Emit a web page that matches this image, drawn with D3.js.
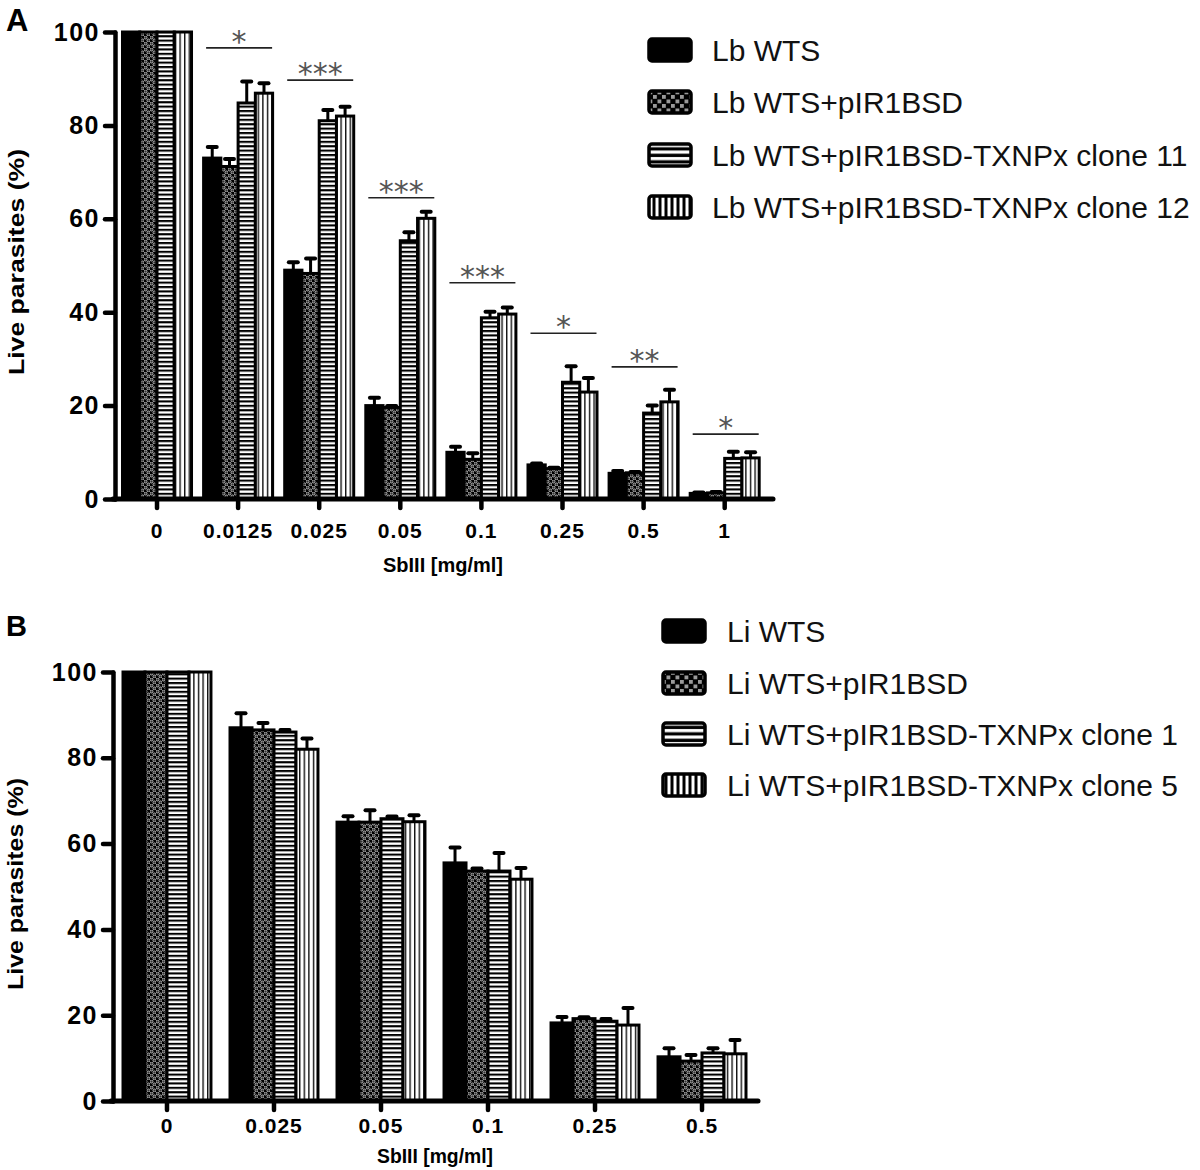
<!DOCTYPE html>
<html><head><meta charset="utf-8">
<script src="https://cdn.jsdelivr.net/npm/d3@7"></script>
<style>
html,body{margin:0;padding:0;background:#fff;}
svg{display:block;}
text{font-family:"Liberation Sans",Arial,Helvetica,sans-serif;}
</style></head>
<body><div id="chart"></div>
<script>
// ---------- DATA ----------
const categoriesA = ["0","0.0125","0.025","0.05","0.1","0.25","0.5","1"];
const seriesNamesA = ["Lb WTS","Lb WTS+pIR1BSD","Lb WTS+pIR1BSD-TXNPx clone 11","Lb WTS+pIR1BSD-TXNPx clone 12"];
const lbWTS        = [100, 73.0, 49.0, 20.0, 10.0, 7.3, 5.5, 1.2];
const lbWTSErr     = [0, 2.4, 1.7, 1.7, 1.2, 0.3, 0.5, 0.2];
const lbPIR        = [100, 71.2, 48.3, 19.6, 8.5, 6.5, 5.6, 1.3];
const lbPIRErr     = [0, 1.6, 3.2, 0.3, 1.3, 0.2, 0.2, 0.2];
const lbClone11    = [100, 84.8, 81.0, 55.3, 38.8, 25.0, 18.4, 8.7];
const lbClone11Err = [0, 4.6, 2.3, 1.8, 1.3, 3.4, 1.6, 1.4];
const lbClone12    = [100, 86.9, 82.0, 60.1, 39.6, 22.9, 20.8, 8.8];
const lbClone12Err = [0, 2.1, 2.0, 1.4, 1.4, 3.0, 2.6, 1.2];
const sigCatsA   = ["0.0125","0.025","0.05","0.1","0.25","0.5","1"];
const sigLabelsA = ["*","***","***","***","*","**","*"];
const sigLevelsA = [96.6, 89.7, 64.5, 46.3, 35.5, 28.3, 13.9];

const categoriesB = ["0","0.025","0.05","0.1","0.25","0.5"];
const seriesNamesB = ["Li WTS","Li WTS+pIR1BSD","Li WTS+pIR1BSD-TXNPx clone 1","Li WTS+pIR1BSD-TXNPx clone 5"];
const liWTS       = [100, 87.0, 65.0, 55.5, 18.2, 10.3];
const liWTSErr    = [0, 3.4, 1.4, 3.6, 1.4, 2.0];
const liPIR       = [100, 86.5, 65.0, 53.6, 19.2, 9.3];
const liPIRErr    = [0, 1.6, 2.8, 0.6, 0.3, 1.4];
const liClone1    = [100, 86.0, 65.8, 53.6, 18.6, 11.2];
const liClone1Err = [0, 0.5, 0.5, 4.2, 0.5, 1.1];
const liClone5    = [100, 82.0, 65.1, 51.7, 17.7, 11.0];
const liClone5Err = [0, 2.5, 1.5, 2.6, 4.0, 3.2];

const yTicks = [0, 20, 40, 60, 80, 100];
const xTitle = "SbIII [mg/ml]";
const yTitle = "Live parasites (%)";

// ---------- SVG ----------
const W = 1200, H = 1170;
const svg = d3.select("#chart").append("svg").attr("width", W).attr("height", H);
const defs = svg.append("defs");

function pattern(id, w, h, build) {
  const p = defs.append("pattern").attr("id", id).attr("patternUnits", "userSpaceOnUse")
    .attr("width", w).attr("height", h);
  build(p);
}
// bar patterns
pattern("pCheck", 6, 6, p => {
  p.append("rect").attr("width", 6).attr("height", 6).attr("fill", "#000");
  p.append("circle").attr("cx", 1.5).attr("cy", 1.5).attr("r", 1.5).attr("fill", "#333").attr("stroke", "#b0b0b0").attr("stroke-width", 1);
  p.append("circle").attr("cx", 4.5).attr("cy", 4.5).attr("r", 1.5).attr("fill", "#333").attr("stroke", "#b0b0b0").attr("stroke-width", 1);
});
pattern("pH", 10, 4.4, p => {
  p.append("rect").attr("width", 10).attr("height", 4.4).attr("fill", "#fff");
  p.append("rect").attr("width", 10).attr("height", 2.1).attr("fill", "#000");
});
pattern("pV", 4.6, 10, p => {
  p.append("rect").attr("width", 4.6).attr("height", 10).attr("fill", "#fff");
  p.append("rect").attr("width", 1.4).attr("height", 10).attr("fill", "#111");
});
// legend patterns
pattern("pCheckL", 9, 9, p => {
  p.append("rect").attr("width", 9).attr("height", 9).attr("fill", "#000");
  p.append("rect").attr("x", 0.5).attr("y", 0.5).attr("width", 3.8).attr("height", 3.8).attr("fill", "#9a9a9a");
  p.append("rect").attr("x", 5).attr("y", 5).attr("width", 3.8).attr("height", 3.8).attr("fill", "#9a9a9a");
});
pattern("pHL", 10, 6.5, p => {
  p.append("rect").attr("width", 10).attr("height", 6.5).attr("fill", "#000");
  p.append("rect").attr("y", 1).attr("width", 10).attr("height", 3.2).attr("fill", "#fff");
});
pattern("pVL", 6, 10, p => {
  p.append("rect").attr("width", 6).attr("height", 10).attr("fill", "#000");
  p.append("rect").attr("x", 1.5).attr("width", 3).attr("height", 10).attr("fill", "#fff");
});

const barFills = ["#000", "url(#pCheck)", "url(#pH)", "url(#pV)"];
const legendFills = ["#000", "url(#pCheckL)", "url(#pHL)", "url(#pVL)"];

function drawPanel(cfg) {
  const g = svg.append("g");
  const x = d3.scaleBand().domain(cfg.categories).range(cfg.xRange)
    .paddingInner(cfg.padInner).paddingOuter(cfg.padOuter);
  const y = d3.scaleLinear().domain([0, 100]).range(cfg.yRange);
  const xs = d3.scaleBand().domain(d3.range(cfg.series.length)).range([0, x.bandwidth()]);

  // bars
  cfg.series.forEach((vals, si) => {
    g.append("g").selectAll("rect").data(cfg.categories).join("rect")
      .attr("x", c => x(c) + xs(si))
      .attr("y", (c, i) => y(vals[i]))
      .attr("width", xs.bandwidth())
      .attr("height", (c, i) => y(0) - y(vals[i]))
      .attr("fill", barFills[si])
      .attr("stroke", "#000").attr("stroke-width", 3);
  });
  // error bars
  cfg.series.forEach((vals, si) => {
    const errs = cfg.errors[si];
    const eg = g.append("g");
    cfg.categories.forEach((c, i) => {
      if (!errs[i]) return;
      const cx = x(c) + xs(si) + xs.bandwidth() / 2;
      eg.append("line").attr("x1", cx).attr("x2", cx)
        .attr("y1", y(vals[i])).attr("y2", y(vals[i] + errs[i]))
        .attr("stroke", "#000").attr("stroke-width", 3);
      eg.append("line").attr("x1", cx - 4.5).attr("x2", cx + 4.5)
        .attr("y1", y(vals[i] + errs[i])).attr("y2", y(vals[i] + errs[i]))
        .attr("stroke", "#000").attr("stroke-width", 4).attr("stroke-linecap", "round");
    });
  });

  // y axis
  const ya = g.append("g").attr("transform", `translate(${cfg.xRange[0]},0)`)
    .call(d3.axisLeft(y).tickValues(yTicks).tickSize(10).tickSizeOuter(0).tickPadding(5));
  ya.select(".domain").attr("stroke", "#000").attr("stroke-width", 4.5).attr("stroke-linecap", "round");
  ya.selectAll(".tick line").attr("stroke", "#000").attr("stroke-width", 4.5).attr("stroke-linecap", "round");
  ya.selectAll(".tick text").attr("font-size", cfg.yTickFont).attr("font-weight", "bold")
    .attr("fill", "#000").attr("letter-spacing", "1.5px")
    .style("font-family", '"Liberation Sans",Arial,sans-serif');

  // x axis
  const xa = g.append("g").attr("transform", `translate(0,${y(0)})`)
    .call(d3.axisBottom(x).tickSize(9).tickSizeOuter(0).tickPadding(cfg.xTickPad));
  xa.select(".domain").remove();
  xa.append("line").attr("x1", cfg.xRange[0] - 2).attr("x2", cfg.xAxisEnd)
    .attr("stroke", "#000").attr("stroke-width", 5).attr("stroke-linecap", "round");
  xa.selectAll(".tick line").attr("stroke", "#000").attr("stroke-width", 4.5).attr("stroke-linecap", "round");
  xa.selectAll(".tick text").attr("font-size", 21).attr("font-weight", "bold")
    .attr("fill", "#000").attr("letter-spacing", "1px")
    .style("font-family", '"Liberation Sans",Arial,sans-serif');

  // axis titles
  g.append("text").attr("x", cfg.xTitle[0]).attr("y", cfg.xTitle[1])
    .attr("text-anchor", "middle").attr("font-size", 20).attr("font-weight", "bold")
    .attr("textLength", cfg.xTitle[2]).attr("lengthAdjust", "spacingAndGlyphs")
    .text(xTitle);
  g.append("text").attr("transform", `translate(${cfg.yTitle[0]},${cfg.yTitle[1]}) rotate(-90)`)
    .attr("text-anchor", "middle").attr("font-size", 22).attr("font-weight", "bold")
    .attr("textLength", cfg.yTitle[2]).attr("lengthAdjust", "spacingAndGlyphs")
    .text(yTitle);

  // panel label
  g.append("text").attr("x", cfg.label[1]).attr("y", cfg.label[2])
    .attr("font-size", cfg.label[3]).attr("font-weight", "bold").text(cfg.label[0]);

  // significance
  if (cfg.sig) {
    cfg.sig.cats.forEach((c, i) => {
      const cx = x(c) + x.bandwidth() / 2 + 1;
      const ly = y(cfg.sig.levels[i]);
      g.append("line").attr("x1", cx - 33).attr("x2", cx + 33).attr("y1", ly).attr("y2", ly)
        .attr("stroke", "#222").attr("stroke-width", 1.6);
      g.append("text").attr("x", cx).attr("y", ly + 4).attr("text-anchor", "middle")
        .attr("font-size", 30).attr("fill", "#555")
        .style("font-family", '"DejaVu Sans",sans-serif')
        .text(cfg.sig.labels[i]);
    });
  }

  // legend
  const lg = g.append("g");
  cfg.names.forEach((n, i) => {
    const cy = cfg.legend.rows[i];
    lg.append("rect").attr("x", cfg.legend.sx).attr("y", cy - 11).attr("width", 42).attr("height", 22)
      .attr("rx", 3).attr("fill", legendFills[i]).attr("stroke", "#000").attr("stroke-width", 3.5);
    lg.append("text").attr("x", cfg.legend.tx).attr("y", cy + 11).attr("font-size", 30)
      .attr("fill", "#111").text(n);
  });
}

drawPanel({
  categories: categoriesA,
  series: [lbWTS, lbPIR, lbClone11, lbClone12],
  errors: [lbWTSErr, lbPIRErr, lbClone11Err, lbClone12Err],
  names: seriesNamesA,
  xRange: [115, 766.7], padInner: 0.149, padOuter: 0.0925, xAxisEnd: 773,
  yRange: [499, 32], yTickFont: 25, xTickPad: 15,
  xTitle: [443, 572, 120], yTitle: [24, 262, 226],
  label: ["A", 6, 31, 31],
  sig: { cats: sigCatsA, labels: sigLabelsA, levels: sigLevelsA },
  legend: { sx: 649, tx: 712, rows: [50, 102, 155, 207] }
});

drawPanel({
  categories: categoriesB,
  series: [liWTS, liPIR, liClone1, liClone5],
  errors: [liWTSErr, liPIRErr, liClone1Err, liClone5Err],
  names: seriesNamesB,
  xRange: [113, 756], padInner: 0.178, padOuter: 0.0935, xAxisEnd: 758,
  yRange: [1101, 672], yTickFont: 25, xTickPad: 8,
  xTitle: [435, 1163, 116], yTitle: [23, 884, 212],
  label: ["B", 6, 636, 29],
  sig: null,
  legend: { sx: 663, tx: 727, rows: [631, 683, 734, 785] }
});
</script></body></html>
